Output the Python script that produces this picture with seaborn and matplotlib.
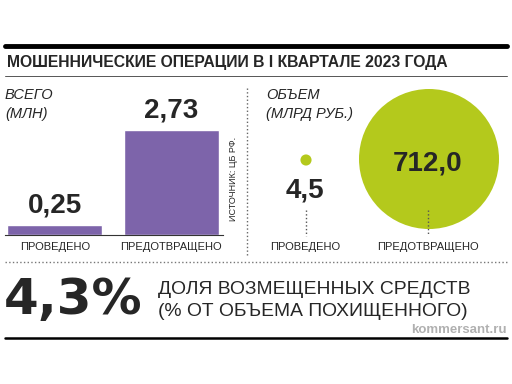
import pandas as pd
import matplotlib.pyplot as plt
import seaborn as sns
from matplotlib.lines import Line2D

# data
categories = ["ПРОВЕДЕНО", "ПРЕДОТВРАЩЕНО"]
count_mln = [0.25, 2.73]
volume_bln = [4.5, 712.0]
count_labels = ["0,25", "2,73"]
volume_labels = ["4,5", "712,0"]
share_label = "4,3%"

purple = "#7d64aa"
green = "#b4c91c"

sns.set_style("white")
plt.rcParams['font.family'] = ['Liberation Sans', 'DejaVu Sans']

W, H = 512, 384
fig = plt.figure(figsize=(5.12, 3.84), dpi=100)


def fx(x):
    return x / W


def fy(y):
    return 1 - y / H


def hline(y, x0, x1, lw, color="black", ls="-"):
    fig.add_artist(Line2D([fx(x0), fx(x1)], [fy(y), fy(y)], lw=lw, color=color, ls=ls))


def vline(x, y0, y1, lw=1, color="#666666", ls=":"):
    fig.add_artist(Line2D([fx(x), fx(x)], [fy(y0), fy(y1)], lw=lw, color=color, ls=ls))


# frame lines
hline(46, 5, 507, 3.5)
hline(76, 5, 507, 0.7, "#555555")
hline(262, 5, 507, 1.0, "#777777", ":")
hline(338, 5, 507, 1.8)
vline(247, 88, 256)

fig.text(fx(7), fy(63), "МОШЕННИЧЕСКИЕ ОПЕРАЦИИ В I КВАРТАЛЕ 2023 ГОДА",
         fontsize=11.3, fontweight="bold", va="center", ha="left")

# left: bar chart
fig.text(fx(5), fy(95), "ВСЕГО", fontsize=10.5, style="italic", va="center")
fig.text(fx(5), fy(114), "(МЛН)", fontsize=10.5, style="italic", va="center")

ax1 = fig.add_axes([fx(5), fy(235), (223 - 5) / W, (235 - 88) / H])
df1 = pd.DataFrame({"cat": categories, "val": count_mln})
sns.barplot(data=df1, x="cat", y="val", color=purple, saturation=1, width=0.815, ax=ax1)
ax1.set_xlim(-0.425, 1.446)
ax1.set_ylim(0, 2.73 * 147 / 105)
for i, (v, t) in enumerate(zip(count_mln, count_labels)):
    ax1.annotate(t, (i, v), xytext=(0, 5), textcoords="offset points",
                 ha="center", va="bottom", fontsize=20, fontweight="bold")
ax1.set_xticks([])
ax1.set_yticks([])
ax1.set_xlabel("")
ax1.set_ylabel("")
for s in ["top", "left", "right"]:
    ax1.spines[s].set_visible(False)
ax1.spines["bottom"].set_color("#333333")
ax1.spines["bottom"].set_linewidth(0.8)
ax1.patch.set_alpha(0)

fig.text(fx(55), fy(247), categories[0], fontsize=8, ha="center", va="center")
fig.text(fx(171), fy(247), categories[1], fontsize=8, ha="center", va="center")
fig.text(fx(234), fy(179), "ИСТОЧНИК: ЦБ РФ.", fontsize=6.5, rotation=90,
         ha="center", va="center")

# right: bubbles
fig.text(fx(266), fy(95), "ОБЪЕМ", fontsize=10.5, style="italic", va="center")
fig.text(fx(266), fy(114), "(МЛРД РУБ.)", fontsize=10.5, style="italic", va="center")

ax2 = fig.add_axes([fx(250), fy(256), (507 - 250) / W, (256 - 80) / H])
k = 14.27
df2 = pd.DataFrame({"x": [306, 429], "y": [160, 159], "val": volume_bln})
sns.scatterplot(data=df2, x="x", y="y", size="val",
                sizes=(min(volume_bln) * k, max(volume_bln) * k),
                color=green, edgecolor="none", legend=False, ax=ax2)
ax2.set_xlim(250, 507)
ax2.set_ylim(256, 80)
ax2.axis("off")

fig.text(fx(305), fy(190), volume_labels[0], fontsize=20, fontweight="bold",
         ha="center", va="center")
fig.text(fx(428), fy(164), volume_labels[1], fontsize=20, fontweight="bold",
         ha="center", va="center")
vline(306, 210, 236, lw=1.0, color="#555555")
vline(428, 210, 234, lw=1.0, color="#555555")
fig.text(fx(305), fy(247), categories[0], fontsize=8, ha="center", va="center")
fig.text(fx(428), fy(247), categories[1], fontsize=8, ha="center", va="center")

# bottom
fig.text(fx(4), fy(300), share_label, fontsize=36, fontweight="bold",
         family=["DejaVu Sans"], ha="left", va="center")
fig.text(fx(158), fy(289), "ДОЛЯ ВОЗМЕЩЕННЫХ СРЕДСТВ", fontsize=13.9,
         ha="left", va="center")
fig.text(fx(158), fy(311), "(% ОТ ОБЪЕМА ПОХИЩЕННОГО)", fontsize=13.9,
         ha="left", va="center")
fig.text(fx(507), fy(330), "kommersant.ru", fontsize=9.5, fontweight="bold",
         color="#b0b0b0", ha="right", va="center")

fig.savefig("out.png", dpi=100, facecolor="white")
